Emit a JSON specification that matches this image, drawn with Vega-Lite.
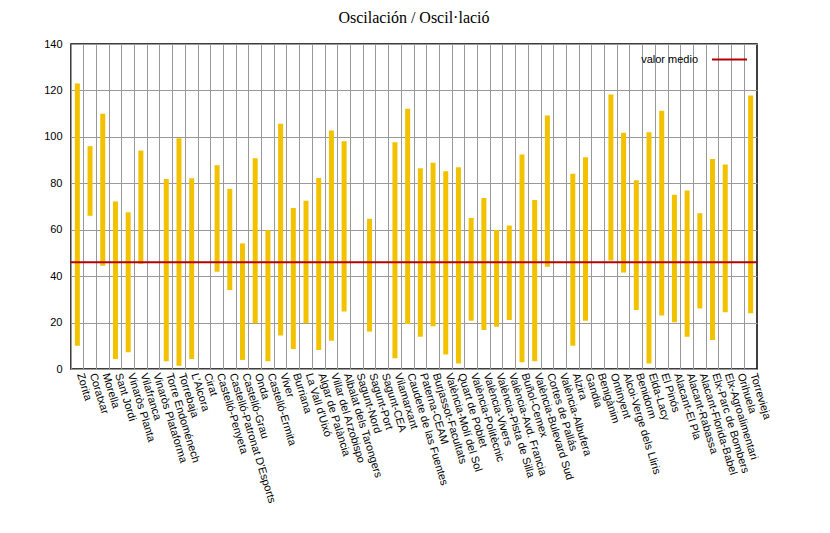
{
  "$schema": "https://vega.github.io/schema/vega-lite/v6.json",
  "width": 686,
  "height": 325,
  "padding": {"left": 43, "top": 10, "right": 5, "bottom": 5},
  "background": "white",
  "title": {
    "text": "Oscilación / Oscil·lació",
    "font": "Liberation Serif",
    "fontSize": 16,
    "fontWeight": "normal",
    "color": "black",
    "anchor": "middle",
    "offset": 10
  },
  "config": {
    "view": {"stroke": "black", "strokeWidth": 1.5}
  },
  "datasets": {
    "estaciones": [
      {"estacion": "Zorita", "minimo": 10, "maximo": 123},
      {"estacion": "Coratxar", "minimo": 66, "maximo": 96},
      {"estacion": "Morella", "minimo": 44.5, "maximo": 110},
      {"estacion": "Sant Jordi", "minimo": 4.3, "maximo": 72.2},
      {"estacion": "Vinaròs Planta", "minimo": 7.2, "maximo": 67.5},
      {"estacion": "Vilafranca", "minimo": 45.3, "maximo": 94.1},
      {"estacion": "Torre Endoménech", "minimo": 3.3, "maximo": 81.9},
      {"estacion": "Torrebaja", "minimo": 1.4, "maximo": 99.4},
      {"estacion": "L'Alcora", "minimo": 4.3, "maximo": 82.2},
      {"estacion": "Castelló-Penyeta", "minimo": 41.9, "maximo": 87.8},
      {"estacion": "Castelló-Patronat D'Esports", "minimo": 34, "maximo": 77.6},
      {"estacion": "Castelló-Grau", "minimo": 3.9, "maximo": 54.1},
      {"estacion": "Onda", "minimo": 19.7, "maximo": 90.8},
      {"estacion": "Castelló-Ermita", "minimo": 3.3, "maximo": 59.9},
      {"estacion": "Viver", "minimo": 14.4, "maximo": 105.6},
      {"estacion": "Burriana", "minimo": 8.6, "maximo": 69.4},
      {"estacion": "La Vall d'Uixó", "minimo": 19.7, "maximo": 72.5},
      {"estacion": "Algar de Palància", "minimo": 8.2, "maximo": 82.3},
      {"estacion": "Villar del Arzobispo", "minimo": 12.2, "maximo": 102.7},
      {"estacion": "Albalat dels Tarongers", "minimo": 24.8, "maximo": 98.1},
      {"estacion": "Sagunt-Port", "minimo": 16.1, "maximo": 64.7},
      {"estacion": "Vilamarxant", "minimo": 4.6, "maximo": 97.7},
      {"estacion": "Caudete de las Fuentes", "minimo": 19.4, "maximo": 112.1},
      {"estacion": "Paterna-CEAM", "minimo": 13.9, "maximo": 86.5},
      {"estacion": "Burjassot-Facultats", "minimo": 18.4, "maximo": 88.9},
      {"estacion": "València-Molí del Sol", "minimo": 6.2, "maximo": 85.2},
      {"estacion": "Quart de Poblet", "minimo": 2.4, "maximo": 86.9},
      {"estacion": "València-Politècnic", "minimo": 20.8, "maximo": 65.1},
      {"estacion": "València-Vivers", "minimo": 16.8, "maximo": 73.7},
      {"estacion": "València-Pista de Silla", "minimo": 18.2, "maximo": 59.9},
      {"estacion": "València-Avd. Francia", "minimo": 21.1, "maximo": 61.8},
      {"estacion": "Buñol-Cemex", "minimo": 2.9, "maximo": 92.4},
      {"estacion": "València-Bulevard Sud", "minimo": 3.3, "maximo": 72.8},
      {"estacion": "Cortes de Pallás", "minimo": 44.1, "maximo": 109.2},
      {"estacion": "Alzira", "minimo": 10, "maximo": 84.1},
      {"estacion": "Gandia", "minimo": 20.8, "maximo": 91.2},
      {"estacion": "Ontinyent", "minimo": 46.7, "maximo": 118.2},
      {"estacion": "Alcoi-Verge dels Lliris", "minimo": 41.6, "maximo": 101.8},
      {"estacion": "Benidorm", "minimo": 25.4, "maximo": 81.3},
      {"estacion": "Elda-Lacy", "minimo": 2.4, "maximo": 102},
      {"estacion": "El Pinós", "minimo": 23, "maximo": 111.3},
      {"estacion": "Alacant-El Pla", "minimo": 20.1, "maximo": 75.1},
      {"estacion": "Alacant-Rabassa", "minimo": 13.9, "maximo": 76.9},
      {"estacion": "Alacant-Florida-Babel", "minimo": 26.1, "maximo": 67.1},
      {"estacion": "Elx-Parc de Bombers", "minimo": 12.5, "maximo": 90.5},
      {"estacion": "Elx-Agroalimentari", "minimo": 24.4, "maximo": 88.1},
      {"estacion": "Torrevieja", "minimo": 24, "maximo": 117.8}
    ],
    "media": [
      {"serie": "valor medio", "valor": 46}
    ]
  },
  "layer": [
    {
      "data": {"name": "estaciones"},
      "mark": {"type": "bar", "color": "#f2c200", "width": 5},
      "encoding": {
        "x": {
          "field": "estacion",
          "type": "nominal",
          "title": null,
          "scale": {
            "domain": ["Zorita", "Coratxar", "Morella", "Sant Jordi", "Vinaròs Planta", "Vilafranca", "Vinaròs Plataforma", "Torre Endoménech", "Torrebaja", "L'Alcora", "Cirat", "Castelló-Penyeta", "Castelló-Patronat D'Esports", "Castelló-Grau", "Onda", "Castelló-Ermita", "Viver", "Burriana", "La Vall d'Uixó", "Algar de Palància", "Villar del Arzobispo", "Albalat dels Tarongers", "Sagunt-Nord", "Sagunt-Port", "Sagunt-CEA", "Vilamarxant", "Caudete de las Fuentes", "Paterna-CEAM", "Burjassot-Facultats", "València-Molí del Sol", "Quart de Poblet", "València-Politècnic", "València-Vivers", "València-Pista de Silla", "València-Avd. Francia", "Buñol-Cemex", "València-Bulevard Sud", "Cortes de Pallás", "València-Albufera", "Alzira", "Gandia", "Benigànim", "Ontinyent", "Alcoi-Verge dels Lliris", "Benidorm", "Elda-Lacy", "El Pinós", "Alacant-El Pla", "Alacant-Rabassa", "Alacant-Florida-Babel", "Elx-Parc de Bombers", "Elx-Agroalimentari", "Orihuela", "Torrevieja"],
            "paddingInner": 0,
            "paddingOuter": 0
          },
          "axis": {
            "grid": true,
            "gridColor": "#999999",
            "ticks": false,
            "domain": false,
            "bandPosition": 0,
            "labelOffset": 2.5,
            "labelAngle": 73,
            "labelAlign": "left",
            "labelBaseline": "middle",
            "labelPadding": 4,
            "labelFont": "Liberation Sans",
            "labelFontSize": 11,
            "labelColor": "black",
            "labelOverlap": false,
            "labelBound": false,
            "labelLimit": 300
          }
        },
        "y": {
          "field": "minimo",
          "type": "quantitative",
          "title": null,
          "scale": {"domain": [0, 140], "nice": false},
          "axis": {
            "tickCount": 7,
            "grid": true,
            "gridColor": "#999999",
            "ticks": false,
            "domain": false,
            "labelPadding": 9,
            "labelFont": "Liberation Sans",
            "labelFontSize": 11,
            "labelColor": "black"
          }
        },
        "y2": {"field": "maximo"}
      }
    },
    {
      "data": {"name": "media"},
      "mark": {"type": "rule", "strokeWidth": 2},
      "encoding": {
        "y": {"field": "valor", "type": "quantitative"},
        "color": {
          "field": "serie",
          "type": "nominal",
          "scale": {"domain": ["valor medio"], "range": ["#b30000"]},
          "legend": {
            "title": null,
            "orient": "none",
            "legendX": 635,
            "legendY": -8,
            "padding": 5,
            "symbolType": "stroke",
            "symbolSize": 1225,
            "symbolStrokeWidth": 2,
            "labelAlign": "right",
            "labelOffset": -50,
            "labelFont": "Liberation Sans",
            "labelFontSize": 11,
            "labelColor": "black"
          }
        }
      }
    }
  ]
}
